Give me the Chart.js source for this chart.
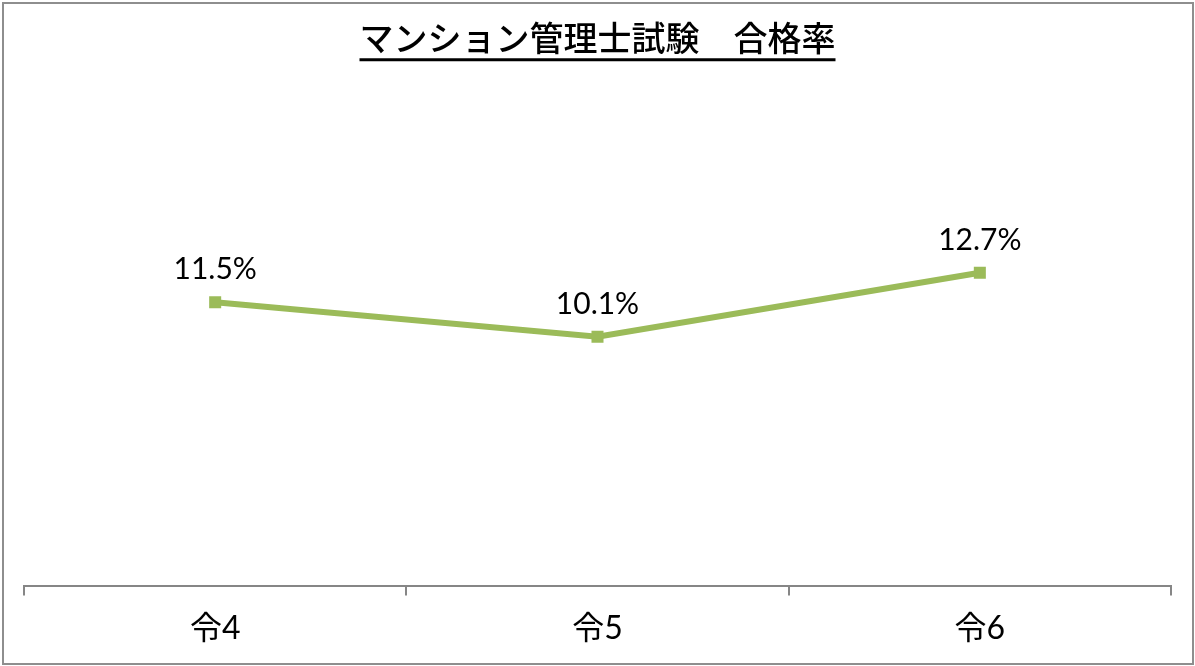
<!DOCTYPE html>
<html>
<head>
<meta charset="utf-8">
<script src="https://cdn.jsdelivr.net/npm/chart.js@4/dist/chart.umd.min.js"></script>
<style>
  html, body { margin: 0; padding: 0; background: #fff; }
  #box { position: relative; width: 1195px; height: 666px; }
</style>
</head>
<body>
<div id="box"><canvas id="myChart" width="1195" height="666"></canvas></div>
<script>
// chart data
var titleText = 'マンション管理士試験　合格率'
var categories = ['令4', '令5', '令6']
var passRates = [11.5, 10.1, 12.7]
var yMin = 0
var yMax = 20

var green = '#9BBB59'
var labelFont = "Lato, 'Noto Sans CJK JP', sans-serif"
var jpFont = "'Noto Sans CJK JP', sans-serif"

var titleFont = { family: jpFont, size: 34, weight: '500', lineHeight: 1.2 }
var titlePad = { top: 18, bottom: 34 }

// border round the whole picture + underline under the title
var decoPlugin = {
    id: 'deco',
    afterDraw: function (chart) {
        var ctx = chart.ctx
        ctx.save()
        ctx.strokeStyle = '#8e8e8e'
        ctx.lineWidth = 2
        ctx.strokeRect(3, 3, chart.width - 5, chart.height - 5)

        var tb = chart.titleBlock
        ctx.font = titleFont.weight + ' ' + titleFont.size + 'px ' + titleFont.family
        var w = ctx.measureText(titleText).width
        var cx = (tb.left + tb.right) / 2
        var y = tb.top + titlePad.top + titleFont.size * titleFont.lineHeight + 1
        ctx.strokeStyle = '#000'
        ctx.lineWidth = 3
        ctx.beginPath()
        ctx.moveTo(cx - w / 2, y)
        ctx.lineTo(cx + w / 2, y)
        ctx.stroke()
        ctx.restore()
    }
}

// value labels above each point
var valueLabels = {
    id: 'valueLabels',
    afterDatasetsDraw: function (chart) {
        var ctx = chart.ctx
        var meta = chart.getDatasetMeta(0)
        ctx.save()
        ctx.font = '30px ' + labelFont
        ctx.fillStyle = '#000'
        ctx.textAlign = 'center'
        ctx.textBaseline = 'alphabetic'
        meta.data.forEach(function (pt, i) {
            ctx.fillText(passRates[i].toFixed(1) + '%', pt.x, pt.y - 23)
        })
        ctx.restore()
    }
}

function buildGraph() {
    var ctx = document.getElementById('myChart').getContext('2d')
    var chart = new Chart(ctx, {
        type: 'line',
        data: {
            labels: categories,
            datasets: [{
                data: passRates,
                borderColor: green,
                backgroundColor: green,
                borderWidth: 6,
                pointStyle: 'rect',
                pointRadius: 8.5,
                pointBorderWidth: 0,
                pointBackgroundColor: green,
                tension: 0
            }]
        },
        options: {
            responsive: false,
            animation: false,
            layout: { padding: { left: 24, right: 24, top: 0, bottom: 4 } },
            plugins: {
                legend: { display: false },
                tooltip: { enabled: false },
                title: {
                    display: true,
                    text: titleText,
                    color: '#000',
                    font: titleFont,
                    padding: titlePad
                }
            },
            scales: {
                x: {
                    offset: true,
                    grid: {
                        offset: true,
                        drawOnChartArea: false,
                        drawTicks: true,
                        tickLength: 10,
                        color: '#868686',
                        lineWidth: 2
                    },
                    border: { display: true, color: '#868686', width: 2 },
                    ticks: {
                        color: '#000',
                        padding: 14,
                        font: { family: labelFont, size: 32 }
                    }
                },
                y: {
                    display: false,
                    min: yMin,
                    max: yMax
                }
            }
        },
        plugins: [valueLabels, decoPlugin]
    })
}

buildGraph()
</script>
</body>
</html>
